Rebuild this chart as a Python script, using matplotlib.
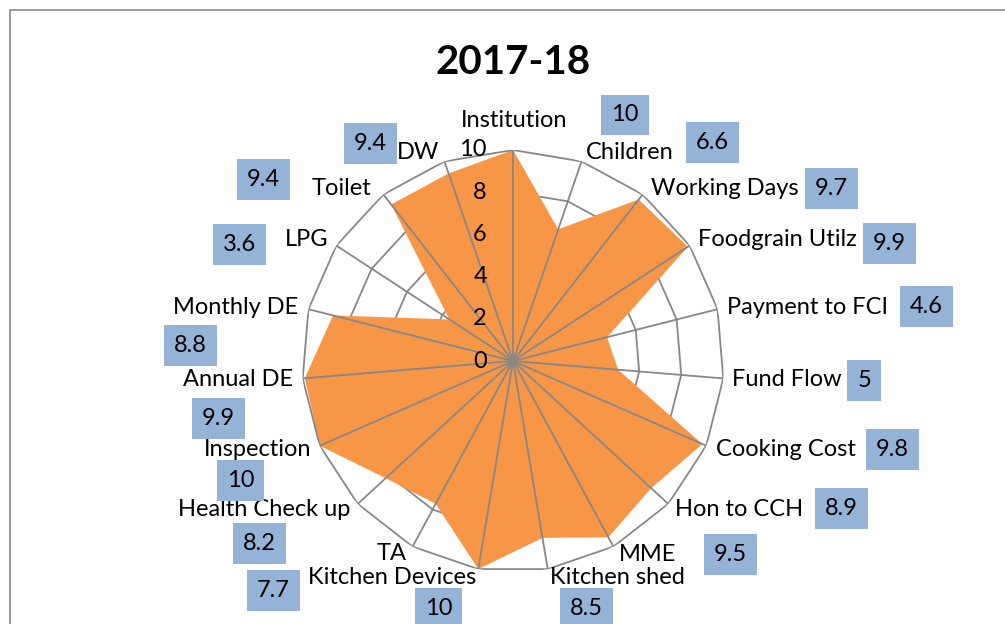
import numpy as np
import matplotlib.pyplot as plt
from matplotlib.patches import Rectangle

categories = ["Institution", "Children", "Working Days", "Foodgrain Utilz",
              "Payment to FCI", "Fund Flow", "Cooking Cost", "Hon to CCH",
              "MME", "Kitchen shed", "Kitchen Devices", "TA",
              "Health Check up", "Inspection", "Annual DE", "Monthly DE",
              "LPG", "Toilet", "DW"]
values = [10, 6.6, 9.7, 9.9, 4.6, 5, 9.8, 8.9, 9.5, 8.5, 10, 7.7,
          8.2, 10, 9.9, 8.8, 3.6, 9.4, 9.4]
value_labels = ["10", "6.6", "9.7", "9.9", "4.6", "5", "9.8", "8.9", "9.5",
                "8.5", "10", "7.7", "8.2", "10", "9.9", "8.8", "3.6", "9.4", "9.4"]
rings = [2, 4, 6, 8, 10]
tick_labels = ["0", "2", "4", "6", "8", "10"]
title = "2017-18"

# layout: offsets in pixels from each outer vertex
label_off = [(1, 29), (4, 9), (8, 6), (8, 6), (9, 2), (9, -1), (10, -4), (7, -6),
             (5, -8), (2, -8), (-2, -8), (-6, -7), (-7, -6), (-8, -4), (-10, -1),
             (-10, 2), (-8, 6), (-12, 6), (-5, 9)]
label_ha = ["center", "left", "left", "left", "left", "left", "left", "left",
            "left", "left", "right", "right", "right", "right", "right",
            "right", "right", "right", "right"]
box_off = [(112, 35), (131, 19), (189, 6), (200, 2), (209, 3), (141, -2), (186, -4),
           (173, -5), (117, -8), (39, -39), (-40, -39), (-139, -44), (-98, -40),
           (-79, -35), (-84, -40), (-118, -36), (-97, 1), (-120, 15), (-74, 18)]

FONT = "Lato"
FS = 17
ORANGE = "#F79646"
GRID = "#878787"
BOX = "#95B3D7"

fig = plt.figure(figsize=(10.05, 6.24), dpi=100)
fig.patches.append(Rectangle((10 / 1005, -0.1), 1.2, 614 / 624 + 0.1,
                             transform=fig.transFigure, fill=False,
                             edgecolor=GRID, linewidth=1.2))

ax = fig.add_axes([302 / 1005, 52 / 624, 422 / 1005, 422 / 624], projection="polar")
ax.set_theta_offset(np.pi / 2)
ax.set_theta_direction(-1)
ax.set_ylim(0, 10)
ax.grid(False)
ax.set_xticks([])
ax.set_yticks([])
ax.spines["polar"].set_visible(False)
ax.patch.set_alpha(0)

n = len(categories)
theta = np.arange(n) * 2 * np.pi / n
tc = np.append(theta, theta[0])

ax.fill(tc, values + values[:1], color=ORANGE, linewidth=0, zorder=2)

# inner rings sit under the fill, spokes and outer ring on top
for r in rings:
    ax.plot(tc, [r] * (n + 1), color=GRID, lw=1.3, zorder=3 if r == rings[-1] else 1)
for t in theta:
    ax.plot([t, t], [0, 10], color=GRID, lw=1.3, zorder=3)

# radial tick labels along the first axis
for i, lab in enumerate(tick_labels):
    ax.annotate(lab, xy=(0, i * 2), xytext=(-26, 0), textcoords="offset pixels",
                ha="right", va="center", fontsize=FS, family=FONT, zorder=4)

for i, t in enumerate(theta):
    dx, dy = label_off[i]
    ax.annotate(categories[i], xy=(t, 10), xytext=(dx, dy), textcoords="offset pixels",
                ha=label_ha[i], va="center", fontsize=FS, family=FONT,
                annotation_clip=False)
    bx, by = box_off[i]
    ax.annotate(value_labels[i], xy=(t, 10), xytext=(bx, by), textcoords="offset pixels",
                ha="center", va="center", fontsize=FS, family=FONT, annotation_clip=False,
                bbox=dict(boxstyle="square,pad=0.42", facecolor=BOX, edgecolor="none"))

fig.text(513 / 1005, 1 - 62 / 624, title, ha="center", va="center",
         fontsize=29, fontweight="bold", family=FONT)

fig.savefig("out.png", dpi=100)
